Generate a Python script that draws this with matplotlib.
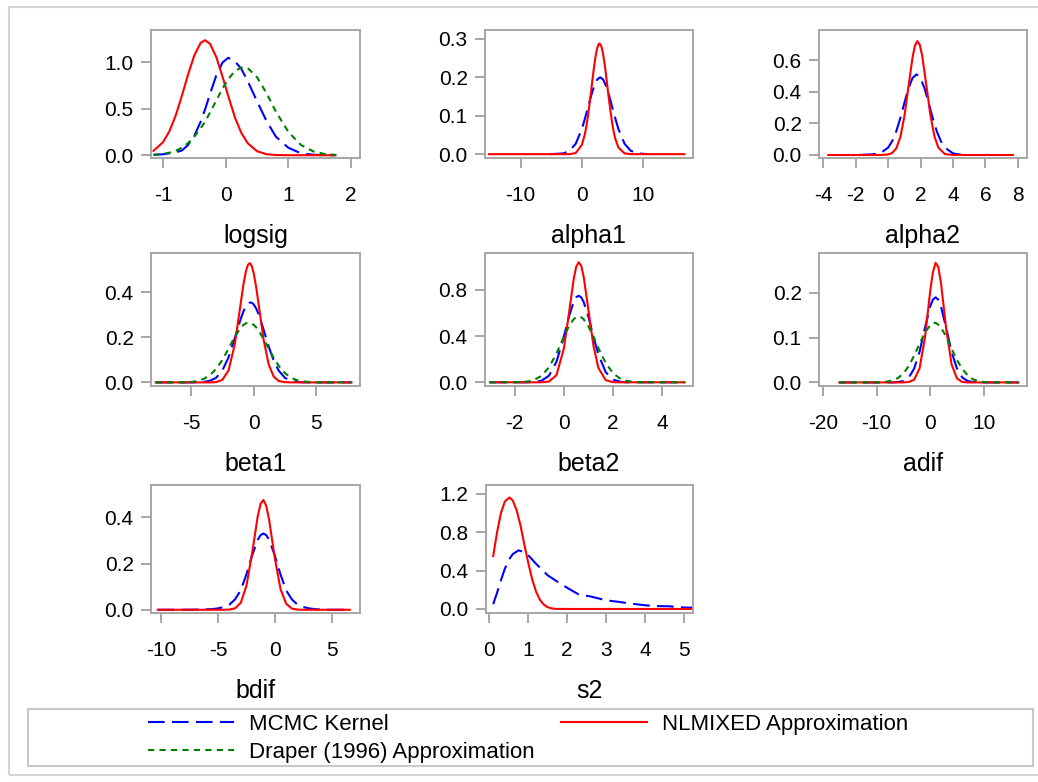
import matplotlib
matplotlib.use("Agg")
import matplotlib.pyplot as plt
from matplotlib.lines import Line2D
from matplotlib.patches import Rectangle

plt.rcParams["font.family"] = ["Liberation Sans", "DejaVu Sans"]
plt.rcParams["axes.unicode_minus"] = False

# posterior density estimates per parameter
logsig_x = [-1.15, -1.0, -0.9, -0.8, -0.7, -0.6, -0.5, -0.4, -0.33, -0.25, -0.15, -0.05,
            0.04, 0.15, 0.25, 0.35, 0.5, 0.65, 0.8, 1.0, 1.2, 1.4, 1.6, 1.75]
logsig_mcmc = [0.003, 0.01, 0.02, 0.03, 0.05, 0.11, 0.21, 0.36, 0.49, 0.66, 0.86, 1.00,
               1.05, 1.01, 0.93, 0.80, 0.58, 0.37, 0.20, 0.08, 0.02, 0.005, 0.0, 0.0]
logsig_nlmixed = [0.047, 0.139, 0.254, 0.421, 0.636, 0.868, 1.077, 1.21, 1.24, 1.202, 1.059, 0.846,
                  0.64, 0.402, 0.240, 0.130, 0.043, 0.011, 0.002, 0.0, 0.0, 0.0, 0.0, 0.0]
logsig_draper = [0.005, 0.014, 0.026, 0.047, 0.08, 0.13, 0.20, 0.29, 0.36, 0.46, 0.59, 0.72,
                 0.82, 0.91, 0.945, 0.94, 0.84, 0.67, 0.47, 0.25, 0.11, 0.04, 0.01, 0.004]

alpha1_x = [-15.2, -10, -6, -4, -2, -1, 0, 0.5, 0.75, 1, 1.25, 1.5, 1.75, 2, 2.25, 2.5,
            2.75, 2.9, 3.0, 3.25, 3.5, 3.75, 4, 4.25, 4.5, 4.75, 5, 5.25, 5.5, 6, 7, 8,
            10, 13, 16.8]
alpha1_nlmixed = [0.0, 0.0, 0.0, 0.0, 0.0, 0.003, 0.024, 0.052, 0.073, 0.099, 0.129, 0.161,
                  0.195, 0.227, 0.254, 0.275, 0.286, 0.288, 0.286, 0.278, 0.259, 0.233, 0.201,
                  0.168, 0.135, 0.105, 0.078, 0.056, 0.039, 0.017, 0.002, 0.0, 0.0, 0.0, 0.0]
alpha1_mcmc_x = [-5.2, -4, -3, -2, -1, 0, 0.5, 1, 1.5, 2, 2.5, 3, 3.5, 4, 4.5, 5,
                 5.5, 6, 7, 8, 9, 10, 10.7]
alpha1_mcmc = [0.0, 0.001, 0.002, 0.009, 0.027, 0.065, 0.092, 0.121, 0.151, 0.176, 0.194, 0.2,
               0.194, 0.176, 0.151, 0.121, 0.092, 0.065, 0.027, 0.009, 0.002, 0.001, 0.0]

alpha2_x = [-3.7, -2, -1, -0.5, 0, 0.25, 0.5, 0.75, 1, 1.25, 1.5, 1.65, 1.8, 1.95, 2.1,
            2.35, 2.6, 2.85, 3.1, 3.5, 4, 5, 6, 7.7]
alpha2_nlmixed = [0.0, 0.0, 0.0, 0.0, 0.003, 0.013, 0.042, 0.112, 0.244, 0.429, 0.614, 0.69,
                  0.72, 0.697, 0.627, 0.445, 0.257, 0.120, 0.046, 0.006, 0.0, 0.0, 0.0, 0.0]
alpha2_mcmc_x = [-1.8, -1, -0.5, 0, 0.25, 0.5, 0.75, 1, 1.25, 1.5, 1.75, 2, 2.25,
                 2.5, 2.75, 3, 3.25, 3.5, 4, 4.55]
alpha2_mcmc = [0.0, 0.004, 0.01, 0.047, 0.088, 0.150, 0.233, 0.329, 0.42, 0.486, 0.51, 0.486,
               0.42, 0.329, 0.233, 0.150, 0.088, 0.047, 0.01, 0.001]

beta1_x = [-7.8, -6, -5, -4.5, -4, -3.5, -3, -2.5, -2, -1.5, -1, -0.8, -0.6, -0.45, -0.3,
           -0.15, 0, 0.2, 0.4, 0.8, 1.2, 1.6, 2, 2.5, 3, 3.5, 4, 5, 6, 7.8]
beta1_mcmc = [0.0, 0.0, 0.0, 0.0004, 0.002, 0.007, 0.020, 0.052, 0.111, 0.197, 0.287, 0.317,
              0.339, 0.350, 0.355, 0.354, 0.347, 0.329, 0.303, 0.234, 0.160, 0.097, 0.052,
              0.020, 0.007, 0.002, 0.0004, 0.0, 0.0, 0.0]
beta1_nlmixed = [0.0, 0.0, 0.0, 0.0, 0.0, 0.0, 0.001, 0.011, 0.053, 0.169, 0.363, 0.439,
                 0.497, 0.523, 0.53, 0.518, 0.487, 0.425, 0.347, 0.189, 0.080, 0.026, 0.006,
                 0.001, 0.0, 0.0, 0.0, 0.0, 0.0, 0.0]
beta1_draper = [0.0, 0.0, 0.002, 0.006, 0.015, 0.031, 0.059, 0.099, 0.150, 0.203, 0.245, 0.256,
                0.263, 0.265, 0.265, 0.261, 0.256, 0.245, 0.230, 0.192, 0.150, 0.109, 0.074,
                0.041, 0.020, 0.009, 0.004, 0.0, 0.0, 0.0]

beta2_x = [-3, -2, -1.5, -1.2, -0.9, -0.6, -0.3, 0, 0.2, 0.4, 0.5, 0.6, 0.7, 0.8, 1.0,
           1.2, 1.4, 1.7, 2.0, 2.3, 2.6, 3, 4, 4.9]
beta2_mcmc = [0.0, 0.0, 0.0, 0.002, 0.014, 0.058, 0.178, 0.395, 0.565, 0.698, 0.737, 0.75,
              0.737, 0.698, 0.565, 0.395, 0.241, 0.087, 0.023, 0.004, 0.0, 0.0, 0.0, 0.0]
beta2_nlmixed = [0.0, 0.0, 0.0, 0.0, 0.0, 0.007, 0.062, 0.293, 0.587, 0.895, 1.0, 1.04,
                 1.012, 0.920, 0.620, 0.318, 0.125, 0.018, 0.001, 0.0, 0.0, 0.0, 0.0, 0.0]
beta2_draper = [0.0, 0.001, 0.006, 0.021, 0.057, 0.131, 0.249, 0.395, 0.484, 0.547, 0.564, 0.57,
                0.564, 0.547, 0.484, 0.395, 0.297, 0.166, 0.077, 0.030, 0.010, 0.002, 0.0, 0.0]

adif_x = [-17, -12, -10, -8, -7, -6, -5, -4, -3, -2, -1, 0, 0.5, 1, 1.5, 2,
          3, 4, 5, 6, 7, 8, 9, 10, 12, 16.5]
adif_mcmc = [0.0, 0.0, 0.0, 0.0, 0.0, 0.001, 0.003, 0.011, 0.031, 0.068, 0.121, 0.170, 0.185, 0.19,
             0.185, 0.170, 0.121, 0.068, 0.031, 0.011, 0.003, 0.001, 0.0, 0.0, 0.0, 0.0]
adif_nlmixed = [0.0, 0.0, 0.0, 0.0, 0.0, 0.0, 0.0, 0.001, 0.006, 0.031, 0.099, 0.204, 0.246, 0.267,
                0.258, 0.223, 0.119, 0.040, 0.009, 0.001, 0.0, 0.0, 0.0, 0.0, 0.0, 0.0]
adif_draper = [0.0, 0.0, 0.0, 0.002, 0.005, 0.010, 0.020, 0.037, 0.060, 0.086, 0.111, 0.128, 0.133, 0.133,
               0.129, 0.123, 0.102, 0.075, 0.050, 0.030, 0.016, 0.007, 0.003, 0.001, 0.0, 0.0]

bdif_x = [-10.3, -8, -6.5, -5.5, -5, -4.5, -4, -3.5, -3, -2.5, -2, -1.5, -1.25, -1, -0.75,
          -0.5, 0, 0.5, 1, 1.5, 2, 2.5, 3, 3.5, 4, 5, 6.6]
bdif_mcmc = [0.0, 0.0, 0.001, 0.003, 0.006, 0.012, 0.022, 0.045, 0.084, 0.153, 0.235, 0.303,
             0.323, 0.33, 0.323, 0.303, 0.235, 0.153, 0.084, 0.045, 0.022, 0.012, 0.006, 0.003,
             0.001, 0.0, 0.0]
bdif_nlmixed = [0.0, 0.0, 0.0, 0.0, 0.0, 0.0, 0.001, 0.006, 0.030, 0.103, 0.244, 0.406,
                0.459, 0.475, 0.449, 0.389, 0.224, 0.090, 0.026, 0.005, 0.001, 0.0, 0.0, 0.0,
                0.0, 0.0, 0.0]

s2_nlmixed_x = [0.1, 0.2, 0.3, 0.4, 0.52, 0.6, 0.7, 0.8, 0.9, 1.0, 1.1, 1.2, 1.3,
                1.4, 1.5, 1.6, 1.7, 2.0, 3.0, 4.0, 5.2]
s2_nlmixed = [0.55, 0.80, 1.00, 1.12, 1.16, 1.13, 1.03, 0.87, 0.67, 0.48, 0.31, 0.18, 0.095,
              0.045, 0.018, 0.006, 0.001, 0.0, 0.0, 0.0, 0.0]
s2_mcmc_x = [0.1, 0.2, 0.3, 0.4, 0.5, 0.6, 0.75, 0.9, 1.0, 1.2, 1.5, 1.8, 2.0, 2.3,
             2.6, 3.0, 3.3, 3.6, 4.0, 4.3, 4.6, 5.0, 5.4]
s2_mcmc = [0.05, 0.17, 0.30, 0.42, 0.51, 0.57, 0.61, 0.59, 0.56, 0.47, 0.35, 0.27, 0.22, 0.15,
           0.13, 0.09, 0.075, 0.058, 0.038, 0.03, 0.028, 0.015, 0.012]

W, H = 1038, 782
BLUE, RED, GREEN = "#0000ff", "#ff0000", "#008000"
FRAME = "#a6a6a6"

styles = {
    "mcmc": dict(color=BLUE, lw=1.5, linestyle=(0, (8, 3.5))),
    "nlmixed": dict(color=RED, lw=1.5, linestyle="-"),
    "draper": dict(color=GREEN, lw=1.5, linestyle=(0, (3, 2.5))),
}

# name, frame box in pixels (x0, y0, x1, y1), xlim, ylim, xticks, yticks, curves
panels = [
    ("logsig", (151, 30, 360, 158), (-1.19, 2.14), (-0.03, 1.35), [-1, 0, 1, 2], [0.0, 0.5, 1.0],
     [(logsig_x, logsig_mcmc, "mcmc"), (logsig_x, logsig_nlmixed, "nlmixed"), (logsig_x, logsig_draper, "draper")]),
    ("alpha1", (485, 30, 693, 158), (-15.85, 18.2), (-0.01, 0.323), [-10, 0, 10], [0.0, 0.1, 0.2, 0.3],
     [(alpha1_mcmc_x, alpha1_mcmc, "mcmc"), (alpha1_x, alpha1_nlmixed, "nlmixed")]),
    ("alpha2", (819, 30, 1027, 158), (-4.27, 8.57), (-0.019, 0.79), [-4, -2, 0, 2, 4, 6, 8], [0.0, 0.2, 0.4, 0.6],
     [(alpha2_mcmc_x, alpha2_mcmc, "mcmc"), (alpha2_x, alpha2_nlmixed, "nlmixed")]),
    ("beta1", (151, 253, 360, 386), (-8.18, 8.48), (-0.016, 0.575), [-5, 0, 5], [0.0, 0.2, 0.4],
     [(beta1_x, beta1_mcmc, "mcmc"), (beta1_x, beta1_nlmixed, "nlmixed"), (beta1_x, beta1_draper, "draper")]),
    ("beta2", (485, 253, 693, 386), (-3.2, 5.24), (-0.032, 1.12), [-2, 0, 2, 4], [0.0, 0.4, 0.8],
     [(beta2_x, beta2_mcmc, "mcmc"), (beta2_x, beta2_nlmixed, "nlmixed"), (beta2_x, beta2_draper, "draper")]),
    ("adif", (819, 253, 1027, 386), (-20.8, 18.1), (-0.008, 0.289), [-20, -10, 0, 10], [0.0, 0.1, 0.2],
     [(adif_x, adif_mcmc, "mcmc"), (adif_x, adif_nlmixed, "nlmixed"), (adif_x, adif_draper, "draper")]),
    ("bdif", (151, 485, 360, 613), (-10.9, 7.5), (-0.014, 0.54), [-10, -5, 0, 5], [0.0, 0.2, 0.4],
     [(bdif_x, bdif_mcmc, "mcmc"), (bdif_x, bdif_nlmixed, "nlmixed")]),
    ("s2", (486, 485, 693, 613), (-0.085, 5.23), (-0.042, 1.29), [0, 1, 2, 3, 4, 5], [0.0, 0.4, 0.8, 1.2],
     [(s2_mcmc_x, s2_mcmc, "mcmc"), (s2_nlmixed_x, s2_nlmixed, "nlmixed")]),
]

fig = plt.figure(figsize=(W / 100, H / 100), dpi=100)

# outer border and legend box
fig.patches.append(Rectangle((9 / W, 1 - 775 / H), 1.2, (775 - 7) / H, transform=fig.transFigure,
                             fill=False, edgecolor="#d4d4d4", lw=1.5))
fig.patches.append(Rectangle((28 / W, 1 - 766 / H), (1033 - 28) / W, (766 - 709) / H,
                             transform=fig.transFigure, fill=False, edgecolor="#c8c8c8", lw=1.5))

for name, (x0, y0, x1, y1), xlim, ylim, xticks, yticks, curves in panels:
    ax = fig.add_axes([x0 / W, 1 - y1 / H, (x1 - x0) / W, (y1 - y0) / H])
    for xs, ys, key in curves:
        ax.plot(xs, ys, **styles[key])
    ax.set_xlim(*xlim)
    ax.set_ylim(*ylim)
    ax.set_xticks(xticks)
    ax.set_xticklabels([str(t) for t in xticks])
    ax.set_yticks(yticks)
    ax.set_yticklabels([f"{t:.1f}" for t in yticks])
    for sp in ax.spines.values():
        sp.set_color(FRAME)
        sp.set_linewidth(1.4)
    ax.tick_params(axis="both", direction="out", length=7.5, width=1.4, color=FRAME,
                   labelsize=15, labelcolor="black")
    ax.tick_params(axis="x", pad=13)
    ax.tick_params(axis="y", pad=5)
    ax.annotate(name, xy=(0.5, 0), xycoords="axes fraction", xytext=(0, -61),
                textcoords="offset points", ha="center", va="baseline", fontsize=18)

handles = [
    Line2D([], [], **styles["mcmc"]),
    Line2D([], [], **styles["draper"]),
    Line2D([], [], **styles["nlmixed"]),
]
labels = ["MCMC Kernel", "Draper (1996) Approximation", "NLMIXED Approximation"]
fig.legend(handles, labels, ncol=2, loc="upper left", bbox_to_anchor=(148 / W, 1 - 714 / H),
           frameon=False, fontsize=16, handlelength=3.85, handletextpad=0.68,
           columnspacing=1.2, labelspacing=0.3, borderpad=0, borderaxespad=0)

fig.savefig("out.png", dpi=100)
